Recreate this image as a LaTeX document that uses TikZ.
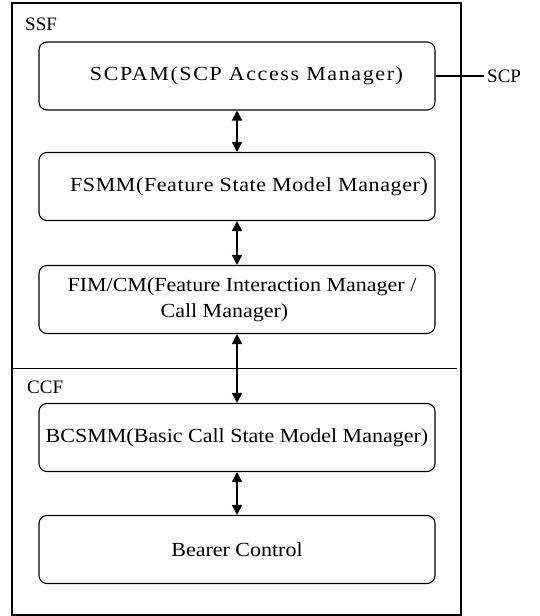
\documentclass[tikz,border=0pt]{standalone}
\usepackage{fontspec}
\setmainfont{Liberation Serif}
\newfontfamily\boxfont{Liberation Serif}[FakeStretch=1.1]
\newfontfamily\spacedfont{Liberation Serif}[FakeStretch=1.1,LetterSpace=8]
\newfontfamily\loosefont{Liberation Serif}[FakeStretch=1.1,LetterSpace=3]
\usetikzlibrary{arrows.meta}
\begin{document}
\begin{tikzpicture}[x=1pt,y=-1pt,
  module/.style={draw, line width=1.1pt, rounded corners=8pt,
    minimum width=396pt, minimum height=68pt, inner sep=0pt,
    font=\boxfont\fontsize{20}{26}\selectfont, align=center},
  link/.style={line width=1.8pt,
    {Triangle[length=10pt,width=10pt]}-{Triangle[length=10pt,width=10pt]}},
  area/.style={font=\fontsize{19}{22}\selectfont, inner sep=0pt}]

\useasboundingbox (0,0) rectangle (540,616);

% enclosing frame and the SSF / CCF split
\draw[line width=1.6pt] (12,3) rectangle (461,615);
\draw[line width=1pt] (12,368) -- (457,368);
\node[area, anchor=base west] (ssf) at (25,30) {SSF};
\node[area, anchor=base west] (ccf) at (27,393) {CCF};

% functional modules
\node[module] (scpam)  at (237,76)
  {\hspace*{19pt}\spacedfont SCPAM(SCP Access Manager)};
\node[module] (fsmm)   at (237,186.5)
  {\hspace*{24pt}\loosefont FSMM(Feature State Model Manager)};
\node[module, align=left] (fim) at (237,299.5)
  {\hspace*{10pt}FIM/CM(Feature Interaction Manager /\\\hspace*{103pt}Call Manager)};
\node[module] (bcsmm)  at (237,437.5) {BCSMM(Basic Call State Model Manager)};
\node[module] (bearer) at (237,549.5) {Bearer Control};

% interfaces between modules
\draw[link] (scpam) -- (fsmm);
\draw[link] (fsmm) -- (fim);
\draw[link] (fim) -- (bcsmm);
\draw[link] (bcsmm) -- (bearer);

% external SCP interface
\coordinate (scpend) at (484,76);
\draw[line width=1.3pt] (scpam.east) -- (scpend);
\node[area, anchor=west] (scp) at (487,76) {SCP};
\end{tikzpicture}
\end{document}
